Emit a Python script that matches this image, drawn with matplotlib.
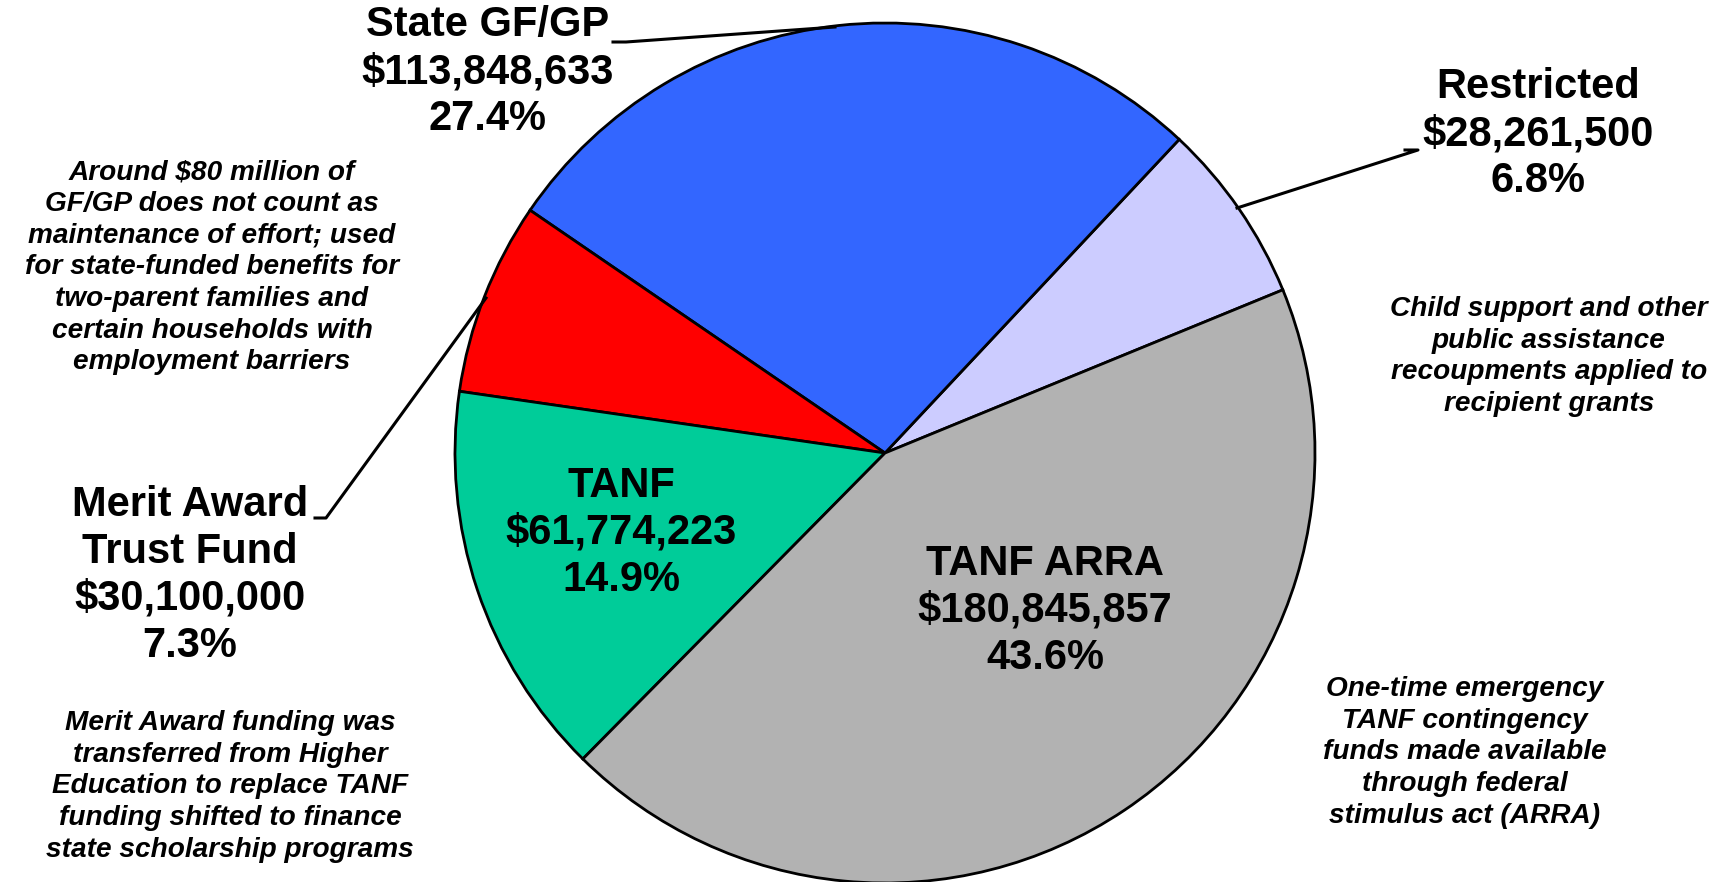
import numpy as np
import matplotlib.pyplot as plt

# ------------------------------------------------------------------
#                       data
# ------------------------------------------------------------------
names = ['Restricted', 'State GF/GP', 'Merit Award\nTrust Fund', 'TANF', 'TANF ARRA']
values = [28261500, 113848633, 30100000, 61774223, 180845857]
colors = ['#CCCCFF', '#3366FF', '#FF0000', '#00CC99', '#B2B2B2']

notes = [
    'Child support and other\npublic assistance\nrecoupments applied to\nrecipient grants',
    'Around $80 million of\nGF/GP does not count as\nmaintenance of effort; used\n'
    'for state-funded benefits for\ntwo-parent families and\ncertain households with\nemployment barriers',
    'Merit Award funding was\ntransferred from Higher\nEducation to replace TANF\n'
    'funding shifted to finance\nstate scholarship programs',
    None,
    'One-time emergency\nTANF contingency\nfunds made available\nthrough federal\nstimulus act (ARRA)',
]

# ------------------------------------------------------------------
#                       layout (pixels, y measured from top)
# ------------------------------------------------------------------
W, H = 1732, 882
cx, cy, R = 885, 453, 430
label_xy = [(1538, 87), (488, 25), (190, 505), (621, 486), (1045, 564)]
note_xy = [(1549, 309), (212, 172), (230, 723), None, (1465, 689)]
BIG_PITCH = 47
NOTE_PITCH = 31.7

FONT = ['Liberation Sans', 'DejaVu Sans']


def Y(y):
    # convert from top-down pixel coords to axes coords
    return H - y


def put_lines(ax, x, y0, text, pitch, **kw):
    for i, line in enumerate(text.split('\n')):
        ax.text(x, Y(y0 + i * pitch), line, ha='center', va='center',
                family=FONT, **kw)


fig = plt.figure(figsize=(W / 100, H / 100), dpi=100)
ax = fig.add_axes([0, 0, 1, 1])

total = sum(values)
pcts = [v / total * 100 for v in values]

ax.pie(values, colors=colors, startangle=22.3, counterclock=True,
       center=(cx, Y(cy)), radius=R, frame=True,
       wedgeprops=dict(edgecolor='black', linewidth=2.0))
ax.set_xlim(0, W)
ax.set_ylim(0, H)
ax.axis('off')

# big labels
for nm, v, p, (lx, ly) in zip(names, values, pcts, label_xy):
    txt = nm + '\n' + '${:,}'.format(v) + '\n' + '{:.1f}%'.format(p)
    put_lines(ax, lx, ly, txt, BIG_PITCH, fontsize=30, fontweight='bold')

# italic notes
for nt, pos in zip(notes, note_xy):
    if nt is None:
        continue
    put_lines(ax, pos[0], pos[1], nt, NOTE_PITCH, fontsize=20.2,
              fontweight='bold', style='italic')

# leader lines
ax.plot([613, 626, 835], [Y(42), Y(42), Y(27)], color='black', lw=2.2)
ax.plot([1405, 1418, 1237], [Y(150), Y(150), Y(208)], color='black', lw=2.2)
ax.plot([315, 326, 486], [Y(518), Y(518), Y(298)], color='black', lw=2.2)

fig.savefig('out.png', dpi=100, facecolor='white')
